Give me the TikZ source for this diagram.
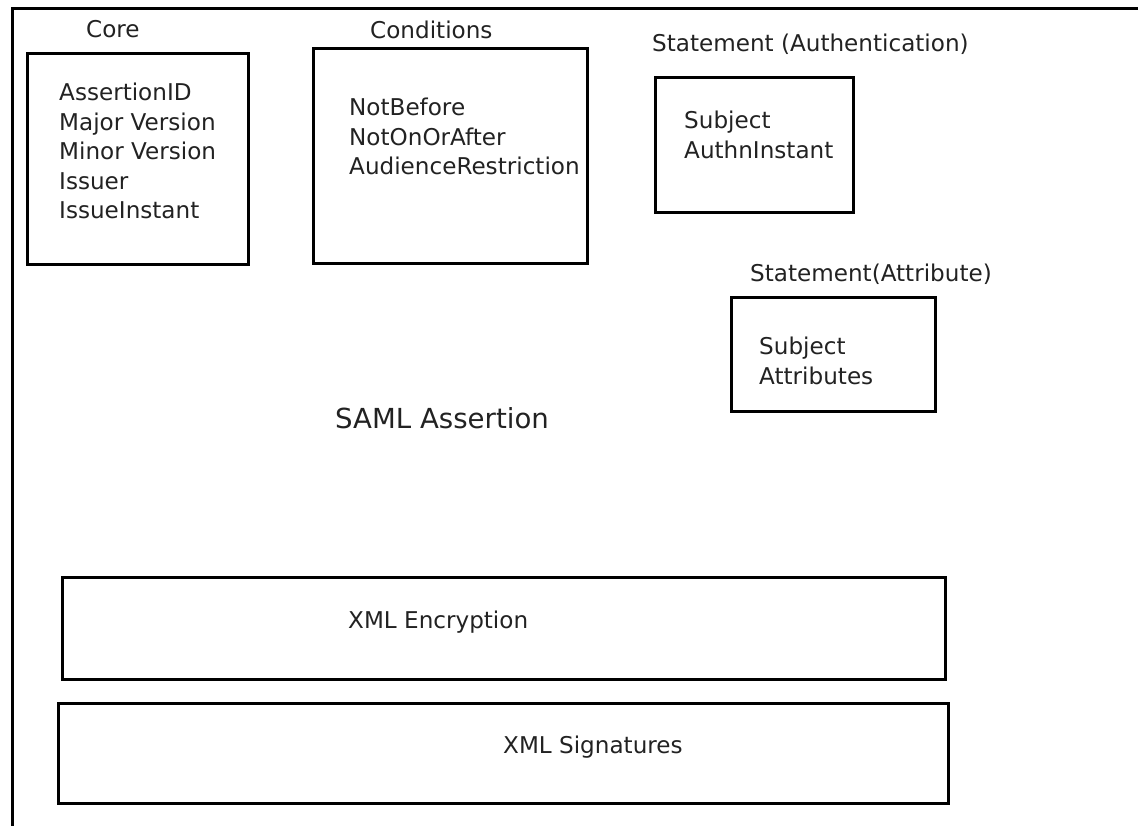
\documentclass[tikz,border=0pt]{standalone}
\usepackage{fontspec}
\setmainfont{DejaVu Sans}
\usepackage{xcolor}
\definecolor{saml-line}{HTML}{000000}
\definecolor{saml-text}{HTML}{222222}
\usepackage{tikz}

\tikzset{
    part/.style={draw=saml-line, line width=3pt, inner sep=0pt},
    caption/.style={text=saml-text, anchor=base west, inner sep=0pt, font=\fontsize{23.1}{29.5}\selectfont},
    fields/.style={caption, anchor=north west, align=left},
}

\begin{document}
\begin{tikzpicture}[x=1pt, y=-1pt]

    % Page
    \useasboundingbox (0, 0) rectangle (1138, 826);
    \draw[saml-line, line width=3pt] (12, 826) -- (12, 9) -- (1138, 9);

    % Core
    \node[caption] (core-title) at (86, 38) {Core};
    \node[part, minimum width=221pt, minimum height=211pt] (core) at (137.5, 159.5) {};
    \node[fields] (core-fields) at (59, 83) {AssertionID\\Major Version\\Minor Version\\Issuer\\IssueInstant};

    % Conditions
    \node[caption] (cond-title) at (370, 39) {Conditions};
    \node[part, minimum width=274pt, minimum height=215pt] (cond) at (450, 156.5) {};
    \node[fields] (cond-fields) at (349, 98) {NotBefore\\NotOnOrAfter\\AudienceRestriction};

    % Statement (Authentication)
    \node[caption] (auth-title) at (652, 52) {Statement (Authentication)};
    \node[part, minimum width=198pt, minimum height=135pt] (auth) at (754, 145.5) {};
    \node[fields] (auth-fields) at (684, 111) {Subject\\AuthnInstant};

    % Statement (Attribute)
    \node[caption] (attr-title) at (750, 282) {Statement(Attribute)};
    \node[part, minimum width=204pt, minimum height=113pt] (attr) at (833, 354.5) {};
    \node[fields] (attr-fields) at (759, 337) {Subject\\Attributes};

    % Assertion
    \node[caption, font=\fontsize{27.6}{33}\selectfont] (assertion) at (335, 428) {SAML Assertion};

    % Encryption
    \node[part, minimum width=883pt, minimum height=102pt] (enc) at (503.5, 628) {};
    \node[caption] (enc-title) at (348, 628) {XML Encryption};

    % Signatures
    \node[part, minimum width=890pt, minimum height=100pt] (sig) at (503, 753) {};
    \node[caption] (sig-title) at (503, 753) {XML Signatures};

\end{tikzpicture}
\end{document}
